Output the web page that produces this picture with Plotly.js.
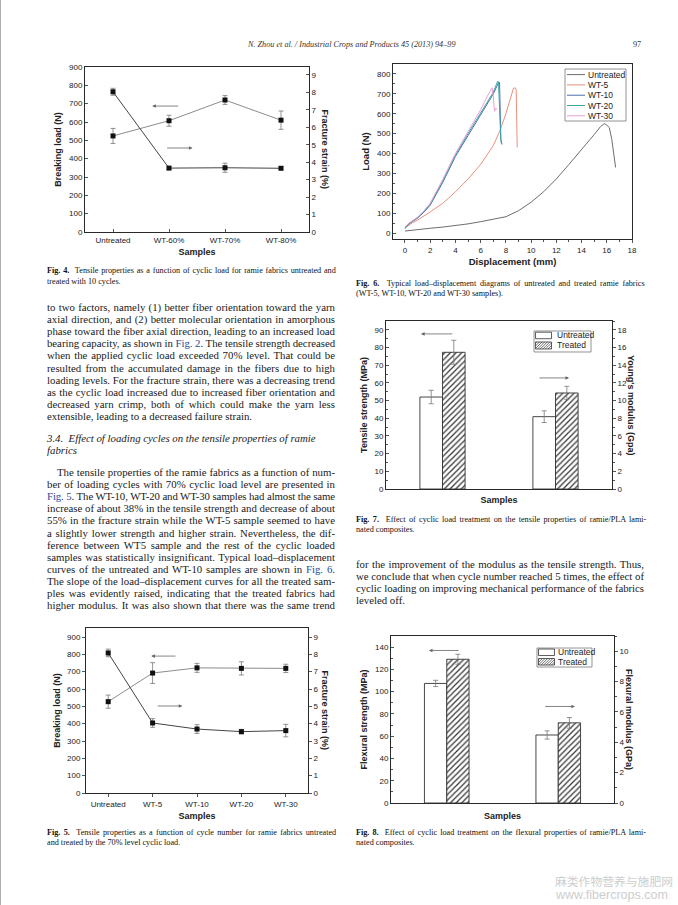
<!DOCTYPE html>
<html><head><meta charset="utf-8">
<script src="https://cdn.plot.ly/plotly-3.0.1.min.js"></script>
<style>
html,body{margin:0;padding:0;background:#fff;}
body{width:678px;height:905px;position:relative;overflow:hidden;}
.pl{position:absolute;}
.ln{position:absolute;white-space:nowrap;color:#1a1a1a;}
.body{font-family:"Liberation Serif",serif;font-size:10.8px;line-height:12px;}
.cap{font-family:"Liberation Serif",serif;font-size:8.2px;line-height:10px;color:#111;}
.head{font-family:"Liberation Serif",serif;font-size:8.2px;line-height:10px;font-style:italic;color:#333;}
.h3{font-family:"Liberation Serif",serif;font-size:10.8px;line-height:12px;font-style:italic;}
.lnk{color:#2a4a9a;}
.wm1{font-family:"Noto Sans CJK SC",sans-serif;font-size:11.8px;line-height:13px;color:#cdcdcd;}
.wm2{font-family:"Liberation Sans",sans-serif;font-size:12.5px;line-height:13px;color:#cdcdcd;}
#edge{position:absolute;left:0;top:0;width:1px;height:905px;background:#b0b0b0;}
</style></head><body>
<div id="edge"></div>
<div id="f4" class="pl" style="left:30px;top:55px;width:320px;height:215px;"></div>
<div id="f6" class="pl" style="left:350px;top:55px;width:300px;height:220px;"></div>
<div id="f7" class="pl" style="left:340px;top:310px;width:310px;height:205px;"></div>
<div id="f5" class="pl" style="left:30px;top:620px;width:320px;height:205px;"></div>
<div id="f8" class="pl" style="left:340px;top:625px;width:310px;height:205px;"></div>
<script>
// ---------------- DATA ----------------
// Fig. 4
const fig4Categories = ['Untreated', 'WT-60%', 'WT-70%', 'WT-80%'];
const fig4Load = [524, 607, 720, 610];
const fig4LoadErr = [41, 30, 24, 50];
const fig4Strain = [8.03, 3.66, 3.68, 3.65];
const fig4StrainErr = [0.2, 0.08, 0.26, 0.08];

// Fig. 5
const fig5Categories = ['Untreated', 'WT-5', 'WT-10', 'WT-20', 'WT-30'];
const fig5Load = [527, 692, 722, 719, 719];
const fig5LoadErr = [38, 60, 26, 38, 24];
const fig5Strain = [8.08, 4.04, 3.69, 3.54, 3.6];
const fig5StrainErr = [0.22, 0.25, 0.25, 0.13, 0.36];

// Fig. 6 load-displacement curves
const fig6Names = ['Untreated', 'WT-5', 'WT-10', 'WT-20', 'WT-30'];
const untreatedX = [0, 0.5, 1, 2, 3, 4, 5, 6, 7, 8, 9, 10, 11, 12, 13, 14, 14.5, 15, 15.5, 15.8, 16.0, 16.2, 16.4, 16.5, 16.6, 16.7];
const untreatedY = [10, 14, 17, 24, 30, 37, 46, 57, 68, 82, 112, 155, 208, 272, 345, 418, 456, 495, 535, 550, 543, 530, 470, 430, 380, 330];
const wt5X = [0, 0.3, 0.6, 1, 1.5, 2, 3, 4, 5, 6, 7, 7.5, 8, 8.3, 8.5, 8.6, 8.75, 8.82, 8.85, 8.9];
const wt5Y = [25, 40, 52, 65, 85, 106, 150, 207, 272, 345, 440, 510, 600, 668, 712, 728, 730, 720, 600, 430];
const wt10X = [0, 0.3, 0.6, 1, 1.5, 2, 3, 4, 5, 6, 6.5, 7, 7.3, 7.45, 7.5, 7.55, 7.6, 7.7];
const wt10Y = [25, 45, 58, 75, 105, 140, 255, 385, 490, 594, 645, 699, 740, 760, 755, 600, 470, 445];
const wt20X = [0, 0.3, 0.6, 1, 1.5, 2, 3, 4, 5, 6, 6.5, 7, 7.2, 7.35, 7.42, 7.5, 7.6, 7.65];
const wt20Y = [22, 48, 60, 78, 108, 145, 262, 392, 500, 605, 655, 708, 740, 763, 750, 600, 470, 448];
const wt30X = [0, 0.3, 0.6, 1, 1.5, 2, 3, 4, 5, 6, 6.5, 6.8, 6.9, 7.0, 7.1, 7.2, 7.3];
const wt30Y = [30, 50, 62, 80, 112, 150, 270, 400, 510, 620, 685, 725, 730, 690, 612, 628, 620];

// Fig. 7 tensile properties of laminates
const barSeries = ['Untreated', 'Treated'];
const fig7Strength = [52, 77.3];
const fig7StrengthErr = [3.8, 6.8];
const fig7Modulus = [8.18, 10.86];
const fig7ModulusErr = [0.66, 0.75];

// Fig. 8 flexural properties of laminates
const fig8Strength = [107.4, 129.1];
const fig8StrengthErr = [2.8, 4.5];
const fig8Modulus = [4.48, 5.28];
const fig8ModulusErr = [0.27, 0.35];

// ---------------- STYLE HELPERS ----------------
const F = 'Liberation Sans, Arial, sans-serif';
const INK = '#2a2a2a';
function ax(extra) {
  const t = extra.ticks === undefined ? 'outside' : extra.ticks;
  const base = {
    showline: true, linecolor: INK, linewidth: 1, ticks: t, ticklen: 3, tickwidth: 0.8,
    tickcolor: INK, tickfont: {family: F, size: 8, color: '#222'}, zeroline: false, showgrid: false,
    fixedrange: true
  };
  if (extra.minorD) { base.minor = {dtick: extra.minorD, ticks: t, ticklen: 2, tickcolor: INK}; delete extra.minorD; }
  return Object.assign(base, extra);
}
function ttl(t, size, standoff) {
  return {text: '<b>' + t + '</b>', font: {family: F, size: size || 9, color: '#222'}, standoff: standoff};
}
function rightTitle(t, xshift) {
  return {text: '<b>' + t + '</b>', xref: 'paper', yref: 'paper', x: 1, y: 0.5, xshift: xshift,
    xanchor: 'center', yanchor: 'middle',
    textangle: 90, showarrow: false, font: {family: F, size: 9, color: '#222'}};
}
function arrow(xh, xt, y) {
  return {x: xh, y: y, ax: xt, ay: y, xref: 'x', yref: 'y', axref: 'x', ayref: 'y', text: '',
    showarrow: true, arrowhead: 2, arrowsize: 0.9, arrowwidth: 0.8, arrowcolor: '#666', standoff: 0, startstandoff: 0};
}
function pxShape(xa, ya, type, x0, y0, x1, y1, line, fill) {
  return {type: type, xref: 'paper', yref: 'paper', xsizemode: 'pixel', ysizemode: 'pixel',
    xanchor: xa, yanchor: ya, x0: x0, y0: y0, x1: x1, y1: y1, line: line, fillcolor: fill || 'rgba(0,0,0,0)'};
}
function pxText(xa, ya, dx, dy, t) {
  return {text: t, xref: 'paper', yref: 'paper', x: xa, y: ya, xshift: dx, yshift: dy, xanchor: 'left',
    yanchor: 'middle', showarrow: false, font: {family: F, size: 8.5, color: '#222'}};
}
function hatch(xa, ya, x0, x1, y0, y1, step) {
  const out = [];
  for (let c = x0 - y1 + step / 2; c < x1 - y0; c += step) {
    const ys = Math.max(y0, x0 - c), ye = Math.min(y1, x1 - c);
    if (ye - ys < 0.3) continue;
    out.push(pxShape(xa, ya, 'line', ys + c, ys, ye + c, ye, {color: '#333', width: 0.7}));
  }
  return out;
}
function barLegend(xa, ya, w, h, rows, textDx) {
  const shapes = [pxShape(xa, ya, 'rect', 0, 0, w, -h, {color: '#777', width: 0.8}, 'white')];
  const anns = [];
  barSeries.forEach(function (name, i) {
    const r = rows[i];
    shapes.push(pxShape(xa, ya, 'rect', 1.5, r.y0, 17.5, r.y1, {color: '#333', width: 0.8}, 'white'));
    if (i === 1) hatch(xa, ya, 1.5, 17.5, r.y1, r.y0, 2.6).forEach(function (s) { shapes.push(s); });
    anns.push(pxText(xa, ya, textDx, r.yc, name));
  });
  return {shapes: shapes, anns: anns};
}
const cfg = {staticPlot: true, displayModeBar: false};
const markerSq = {symbol: 'square', size: 5, color: '#111'};
function errs(arr) { return {type: 'data', array: arr, visible: true, color: '#777', thickness: 0.8, width: 2.5}; }

// ---------------- FIG 4 ----------------
Plotly.newPlot('f4', [
  {x: fig4Categories, y: fig4Load, mode: 'lines+markers', line: {color: '#8c8c8c', width: 1}, marker: markerSq,
    error_y: errs(fig4LoadErr), showlegend: false},
  {x: fig4Categories, y: fig4Strain, yaxis: 'y2', mode: 'lines+markers', line: {color: '#444', width: 1}, marker: markerSq,
    error_y: errs(fig4StrainErr), showlegend: false}
], {
  width: 320, height: 215, margin: {l: 55, r: 41, t: 12, b: 38}, paper_bgcolor: 'white', plot_bgcolor: 'white',
  font: {family: F},
  xaxis: ax({ticks: 'inside', type: 'category', range: [-0.5, 3.5], mirror: true, title: ttl('Samples', 9, 5)}),
  yaxis: ax({ticks: 'inside', range: [0, 900], dtick: 100, title: ttl('Breaking load (N)', 9, 5)}),
  yaxis2: ax({ticks: 'inside', overlaying: 'y', side: 'right', range: [0, 9.45], dtick: 1}),
  annotations: [rightTitle('Fracture strain (%)', 16), arrow(0.70, 1.19, 687), arrow(1.42, 0.94, 458)]
}, cfg);

// ---------------- FIG 5 ----------------
Plotly.newPlot('f5', [
  {x: fig5Categories, y: fig5Load, mode: 'lines+markers', line: {color: '#8c8c8c', width: 1}, marker: markerSq,
    error_y: errs(fig5LoadErr), showlegend: false},
  {x: fig5Categories, y: fig5Strain, yaxis: 'y2', mode: 'lines+markers', line: {color: '#444', width: 1}, marker: markerSq,
    error_y: errs(fig5StrainErr), showlegend: false}
], {
  width: 320, height: 205, margin: {l: 56, r: 42, t: 8, b: 32}, paper_bgcolor: 'white', plot_bgcolor: 'white',
  font: {family: F},
  xaxis: ax({type: 'category', range: [-0.5, 4.5], mirror: true, title: ttl('Samples', 9, 5)}),
  yaxis: ax({range: [0, 952], dtick: 100, title: ttl('Breaking load (N)', 9, 4)}),
  yaxis2: ax({overlaying: 'y', side: 'right', range: [0, 9.52], dtick: 1}),
  annotations: [rightTitle('Fracture strain (%)', 17), arrow(0.97, 1.55, 790), arrow(1.67, 1.08, 502)]
}, cfg);

// ---------------- FIG 6 ----------------
const fig6X = [untreatedX, wt5X, wt10X, wt20X, wt30X];
const fig6Y = [untreatedY, wt5Y, wt10Y, wt20Y, wt30Y];
const fig6Colors = ['#6e6e6e', '#ec8f7c', '#4b6fae', '#3fa3aa', '#eaa2cf'];
const f6Shapes = [], f6Anns = [];
const f6xa = 0.7197, f6ya = 0.9714;
f6Shapes.push(pxShape(f6xa, f6ya, 'rect', 0, 0, 61, -52, {color: '#777', width: 0.8}, 'white'));
fig6Names.forEach(function (n, i) {
  const yc = -(5.6 + 10.3 * i);
  f6Shapes.push(pxShape(f6xa, f6ya, 'line', 2, yc, 20, yc, {color: fig6Colors[i], width: 1}));
  f6Anns.push(pxText(f6xa, f6ya, 21, yc, n));
});
Plotly.newPlot('f6', fig6Names.map(function (n, i) {
  return {x: fig6X[i], y: fig6Y[i], name: n, mode: 'lines', line: {color: fig6Colors[i], width: 1}, showlegend: false};
}), {
  width: 300, height: 220, margin: {l: 43, r: 18, t: 9, b: 36}, paper_bgcolor: 'white', plot_bgcolor: 'white',
  font: {family: F},
  xaxis: ax({range: [-0.95, 18], dtick: 2, minorD: 1, mirror: true, title: ttl('Displacement (mm)', 9.5, 4)}),
  yaxis: ax({ticks: 'inside', range: [-30, 850], dtick: 100, minorD: 50, mirror: true, title: ttl('Load (N)', 9.5, 5)}),
  shapes: f6Shapes, annotations: f6Anns
}, cfg);

// ---------------- FIG 7 / FIG 8 ----------------
function barTraces(strength, strengthErr, modulus, modulusErr) {
  const tr = [];
  barSeries.forEach(function (name, i) {
    const mk = {color: 'white', line: {color: '#333', width: 0.9}};
    if (i === 1) mk.pattern = {shape: '/', fgcolor: '#333', bgcolor: 'white', size: 4, solidity: 0.3};
    const common = {type: 'bar', width: 0.2, offset: i === 0 ? -0.2 : 0, marker: mk, showlegend: false, name: name};
    tr.push(Object.assign({x: [0], y: [strength[i]], yaxis: 'y',
      error_y: {type: 'data', array: [strengthErr[i]], color: '#777', thickness: 0.8, width: 2.5}}, common));
    tr.push(Object.assign({x: [1], y: [modulus[i]], yaxis: 'y2',
      error_y: {type: 'data', array: [modulusErr[i]], color: '#777', thickness: 0.8, width: 2.5}}, common));
  });
  return tr;
}
const lg7 = barLegend(0.655, 0.9405, 57, 21, [{y0: -1.2, y1: -7.7, yc: -4.5}, {y0: -11, y1: -18, yc: -14.5}], 21);
Plotly.newPlot('f7', barTraces(fig7Strength, fig7StrengthErr, fig7Modulus, fig7ModulusErr), {
  width: 310, height: 205, margin: {l: 46, r: 38, t: 11, b: 26}, paper_bgcolor: 'white', plot_bgcolor: 'white',
  font: {family: F}, barmode: 'overlay',
  xaxis: ax({range: [-0.5, 1.5], mirror: true, ticks: '', showticklabels: false, title: ttl('Samples', 9, 7)}),
  yaxis: ax({ticks: 'inside', range: [0, 95], dtick: 10, minorD: 5, title: ttl('Tensile strength (MPa)', 9, 5)}),
  yaxis2: ax({overlaying: 'y', side: 'right', range: [0, 19], dtick: 2, minorD: 1}),
  shapes: lg7.shapes,
  annotations: [rightTitle("Young's modulus (Gpa)", 19), arrow(-0.19, 0.10, 87.7), arrow(1.12, 0.845, 62.8)].concat(lg7.anns)
}, cfg);

const lg8 = barLegend(0.6547, 0.928, 55, 19, [{y0: -1, y1: -7.5, yc: -4.3}, {y0: -10.5, y1: -17, yc: -13.7}], 19);
Plotly.newPlot('f8', barTraces(fig8Strength, fig8StrengthErr, fig8Modulus, fig8ModulusErr), {
  width: 310, height: 205, margin: {l: 51, r: 36, t: 11, b: 27}, paper_bgcolor: 'white', plot_bgcolor: 'white',
  font: {family: F}, barmode: 'overlay',
  xaxis: ax({range: [-0.5, 1.5], mirror: true, ticks: '', showticklabels: false, title: ttl('Samples', 9, 9)}),
  yaxis: ax({ticks: 'inside', range: [0, 150], dtick: 20, minorD: 10, title: ttl('Flexural strength (MPa)', 9, 5)}),
  yaxis2: ax({overlaying: 'y', side: 'right', range: [0, 11], dtick: 2, minorD: 1}),
  shapes: lg8.shapes,
  annotations: [rightTitle('Flexural modulus (GPa)', 15.5), arrow(-0.16, 0.12, 137), arrow(1.15, 0.87, 86.7)].concat(lg8.anns)
}, cfg);

// ---------------- PAGE TEXT ----------------
function put(html, x, yc, w, cls, just) {
  const d = document.createElement('div');
  d.className = 'ln ' + cls; d.innerHTML = html; d.style.left = x + 'px';
  document.body.appendChild(d);
  const lh = parseFloat(getComputedStyle(d).lineHeight);
  d.style.top = (yc - lh / 2) + 'px';
  if (w) {
    const nat = d.getBoundingClientRect().width;
    const txt = d.textContent; const sp = (txt.match(/ /g) || []).length;
    if (nat > w) d.style.letterSpacing = ((w - nat) / txt.length) + 'px';
    else if (just && sp > 0) d.style.wordSpacing = ((w - nat) / sp) + 'px';
  }
  return d;
}
put('N. Zhou et al. / Industrial Crops and Products 45 (2013) 94–99', 248, 45, 0, 'head', false);
put('97', 633, 45, 0, 'head', false).style.fontStyle = 'normal';

const L = 47, LW = 288, R = 356, RW = 288;
// captions
put('<b>Fig. 4.</b>&nbsp; Tensile properties as a function of cyclic load for ramie fabrics untreated and', L, 270.5, LW, 'cap', true);
put('treated with 10 cycles.', L, 281.5, 0, 'cap', false);
put('<b>Fig. 6.</b>&nbsp; Typical load–displacement diagrams of untreated and treated ramie fabrics', R, 283.5, 287, 'cap', true);
put('(WT-5, WT-10, WT-20 and WT-30 samples).', R, 294, 0, 'cap', false);
put('<b>Fig. 7.</b>&nbsp; Effect of cyclic load treatment on the tensile properties of ramie/PLA lami-', R, 519.5, 289, 'cap', true);
put('nated composites.', R, 529.5, 0, 'cap', false);
put('<b>Fig. 5.</b>&nbsp; Tensile properties as a function of cycle number for ramie fabrics untreated', L, 832.5, LW, 'cap', true);
put('and treated by the 70% level cyclic load.', L, 843, 0, 'cap', false);
put('<b>Fig. 8.</b>&nbsp; Effect of cyclic load treatment on the flexural properties of ramie/PLA lami-', R, 832.5, 289, 'cap', true);
put('nated composites.', R, 843, 0, 'cap', false);

const p1 = [
  'to two factors, namely (1) better fiber orientation toward the yarn',
  'axial direction, and (2) better molecular orientation in amorphous',
  'phase toward the fiber axial direction, leading to an increased load',
  'bearing capacity, as shown in <span class="lnk">Fig. 2</span>. The tensile strength decreased',
  'when the applied cyclic load exceeded 70% level. That could be',
  'resulted from the accumulated damage in the fibers due to high',
  'loading levels. For the fracture strain, there was a decreasing trend',
  'as the cyclic load increased due to increased fiber orientation and',
  'decreased yarn crimp, both of which could make the yarn less',
  'extensible, leading to a decreased failure strain.'
];
p1.forEach(function (t, i) { put(t, L, 307 + 12.1 * i, i < p1.length - 1 ? LW : 0, 'body', i < p1.length - 1); });
put('3.4.&nbsp; Effect of loading cycles on the tensile properties of ramie', L, 438, 0, 'h3', false);
put('fabrics', L, 450, 0, 'h3', false);
const p2 = [
  'The tensile properties of the ramie fabrics as a function of num-',
  'ber of loading cycles with 70% cyclic load level are presented in',
  '<span class="lnk">Fig. 5</span>. The WT-10, WT-20 and WT-30 samples had almost the same',
  'increase of about 38% in the tensile strength and decrease of about',
  '55% in the fracture strain while the WT-5 sample seemed to have',
  'a slightly lower strength and higher strain. Nevertheless, the dif-',
  'ference between WT5 sample and the rest of the cyclic loaded',
  'samples was statistically insignificant. Typical load–displacement',
  'curves of the untreated and WT-10 samples are shown in <span class="lnk">Fig. 6</span>.',
  'The slope of the load–displacement curves for all the treated sam-',
  'ples was evidently raised, indicating that the treated fabrics had',
  'higher modulus. It was also shown that there was the same trend'
];
p2.forEach(function (t, i) { put(t, i === 0 ? L + 10 : L, 472 + 12.1 * i, i === 0 ? LW - 10 : LW, 'body', true); });
const p3 = [
  'for the improvement of the modulus as the tensile strength. Thus,',
  'we conclude that when cycle number reached 5 times, the effect of',
  'cyclic loading on improving mechanical performance of the fabrics',
  'leveled off.'
];
p3.forEach(function (t, i) { put(t, R, 564 + 12.1 * i, i < p3.length - 1 ? RW : 0, 'body', i < p3.length - 1); });

// watermark
put('麻类作物营养与施肥网', 555, 880, 120, 'wm1', false);
put('www.fibercrops.com', 556, 895, 118, 'wm2', false);
</script>
</body></html>
